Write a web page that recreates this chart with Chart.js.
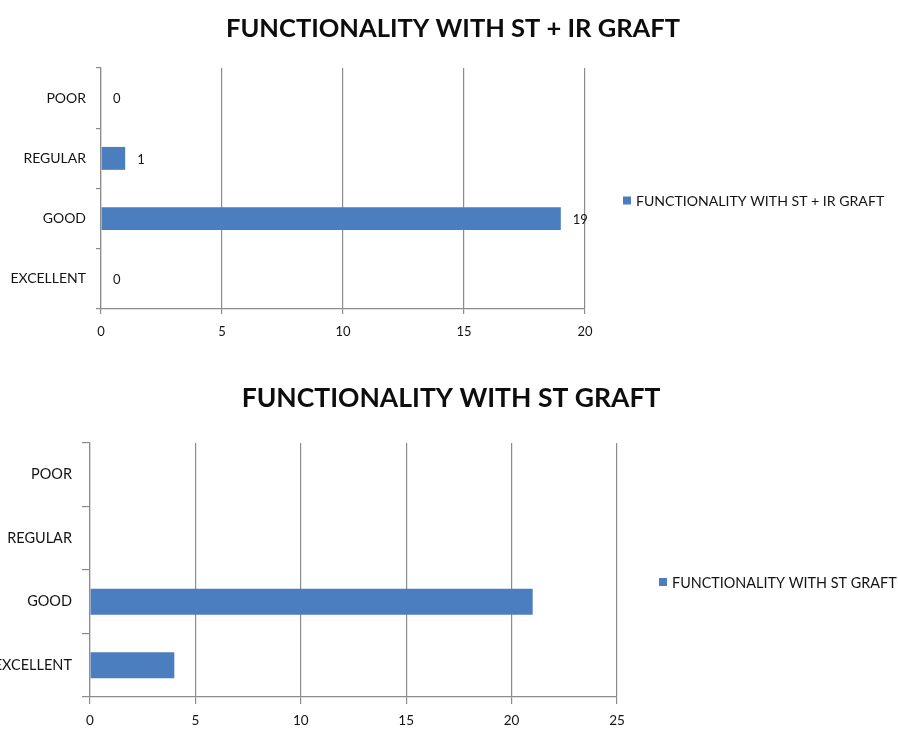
<!DOCTYPE html>
<html><head><meta charset="utf-8">
<script src="https://cdn.jsdelivr.net/npm/chart.js@4.4.0/dist/chart.umd.min.js"></script>
<style>html,body{margin:0;padding:0;background:#fff;overflow:hidden}canvas{display:block}</style>
</head><body>
<canvas id="c1" width="898" height="365"></canvas>
<canvas id="c2" width="898" height="365"></canvas>
<script>
const categories = ['POOR', 'REGULAR', 'GOOD', 'EXCELLENT'];
const stIrValues = [0, 1, 19, 0];
const stValues = [null, null, 21, 4];
const stIrTitle = 'FUNCTIONALITY WITH ST + IR GRAFT';
const stTitle = 'FUNCTIONALITY WITH ST GRAFT';
const stIrMax = 20;
const stMax = 25;
const tickStep = 5;

const FONT = 'Lato, "Open Sans", sans-serif';
const GRID = '#8c8c8c';
const BAR = '#4a7ebf';
const TEXT = '#141414';

const canvasTitle = {
  id: 'canvasTitle',
  afterDraw(chart, args, opts) {
    const ctx = chart.ctx;
    ctx.save();
    ctx.font = 'bold ' + opts.size + 'px ' + FONT;
    ctx.fillStyle = '#0d0d0d';
    ctx.textAlign = 'center';
    ctx.textBaseline = 'alphabetic';
    ctx.fillText(opts.text, chart.width / 2 + opts.dx, opts.baseline);
    ctx.restore();
  }
};

const sideLegend = {
  id: 'sideLegend',
  afterDraw(chart, args, opts) {
    const ctx = chart.ctx, ca = chart.chartArea;
    const x = ca.right + opts.offsetX;
    const y = (ca.top + ca.bottom) / 2 + opts.offsetY;
    ctx.save();
    ctx.fillStyle = chart.data.datasets[0].backgroundColor;
    ctx.fillRect(x, y - 4, 8, 8);
    ctx.font = opts.fontSize + 'px ' + FONT;
    ctx.fillStyle = TEXT;
    ctx.textBaseline = 'middle';
    ctx.textAlign = 'left';
    ctx.fillText(chart.data.datasets[0].label, x + 13, y + 1);
    ctx.restore();
  }
};

const valueLabels = {
  id: 'valueLabels',
  afterDatasetsDraw(chart, args, opts) {
    if (!opts.show) return;
    const ctx = chart.ctx;
    const meta = chart.getDatasetMeta(0);
    const vals = chart.data.datasets[0].data;
    ctx.save();
    ctx.font = '13px ' + FONT;
    ctx.fillStyle = TEXT;
    ctx.textBaseline = 'middle';
    ctx.textAlign = 'left';
    meta.data.forEach((el, i) => {
      if (vals[i] === null || vals[i] === undefined) return;
      ctx.fillText(String(vals[i]), el.x + 12, el.y + 1);
    });
    ctx.restore();
  }
};

function makeChart(id, title, values, maxVal, cfg) {
  return new Chart(document.getElementById(id), {
    type: 'bar',
    data: {
      labels: categories,
      datasets: [{
        label: title,
        data: values,
        backgroundColor: BAR,
        borderWidth: 0,
        categoryPercentage: 1,
        barPercentage: cfg.barPct
      }]
    },
    options: {
      indexAxis: 'y',
      responsive: false,
      animation: false,
      layout: { padding: { left: 0, right: cfg.padRight, top: cfg.padTop, bottom: 0 } },
      scales: {
        x: {
          type: 'linear', min: 0, max: maxVal,
          ticks: { stepSize: tickStep, padding: cfg.xPad, color: TEXT, font: { family: FONT, size: cfg.xSize } },
          grid: { color: GRID, tickLength: cfg.xTick, lineWidth: 1.2 },
          border: { color: GRID, width: 1.2 },
          afterFit: s => { s.height = cfg.xHeight; }
        },
        y: {
          type: 'category',
          ticks: { padding: cfg.yPad, color: TEXT, font: { family: FONT, size: cfg.ySize } },
          grid: { drawOnChartArea: false, color: GRID, tickLength: cfg.yTick, offset: true, lineWidth: 1.2 },
          border: { color: GRID, width: 1.2 },
          afterFit: s => { s.width = cfg.yWidth; }
        }
      },
      plugins: {
        legend: { display: false },
        tooltip: { enabled: false },
        title: { display: false },
        canvasTitle: { text: title, size: cfg.titleSize, baseline: cfg.titleBase, dx: cfg.titleDx },
        sideLegend: { offsetX: cfg.legX, offsetY: 12, fontSize: cfg.legSize },
        valueLabels: { show: cfg.labels }
      }
    },
    plugins: [canvasTitle, sideLegend, valueLabels]
  });
}

makeChart('c1', stIrTitle, stIrValues, stIrMax, {
  barPct: 0.38, padRight: 313, padTop: 68, xPad: 10, xSize: 13, xTick: 5, xHeight: 56,
  yPad: 10, yTick: 5, ySize: 14, yWidth: 101, titleBase: 37, titleSize: 25.5, titleDx: 4,
  legX: 38, legSize: 14.1, labels: true
});
makeChart('c2', stTitle, stValues, stMax, {
  barPct: 0.41, padRight: 281, padTop: 78, xPad: 9, xSize: 13.5, xTick: 7, xHeight: 33,
  yPad: 10, yTick: 8, ySize: 14.5, yWidth: 90, titleBase: 42, titleSize: 26.5, titleDx: 2,
  legX: 42, legSize: 14.4, labels: false
});
</script>
</body></html>
